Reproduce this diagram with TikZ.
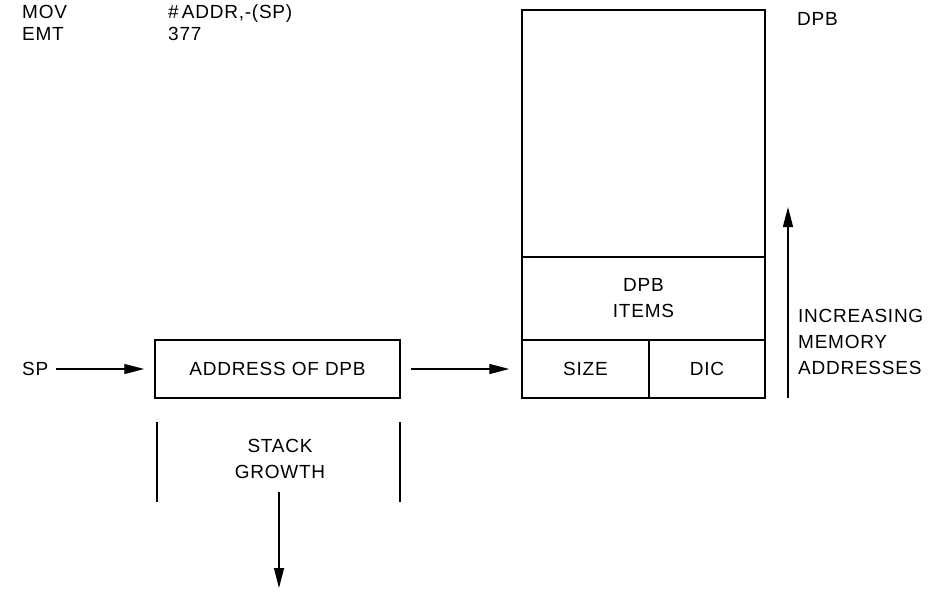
\documentclass[tikz,border=0pt]{standalone}
\usepackage{fontspec}
\setmainfont{Liberation Sans}[LetterSpace=4]
\usetikzlibrary{arrows.meta}
\begin{document}
\begin{tikzpicture}[x=1pt,y=-1pt,
  lbl/.style={font=\fontsize{19}{26}\selectfont, inner sep=0pt},
  cell/.style={draw, line width=1.5pt, minimum width=#1, inner sep=0pt},
  conn/.style={line width=1.4pt, -{Triangle[length=20pt,width=10pt]}},
  plain/.style={line width=1.5pt}]
\useasboundingbox (0,0) rectangle (930,592);
% top text
\node[lbl, anchor=base west] (mov) at (22,18) {MOV};
\node[lbl, anchor=base west] (movarg) at (168,18) {\#\,ADDR,-(SP)};
\node[lbl, anchor=base west] (emt) at (22,40) {EMT};
\node[lbl, anchor=base west] (emtarg) at (168,40) {377};
\node[lbl, anchor=base west] (dpblbl) at (797,25) {DPB};
% DPB block
\node[cell=243pt, minimum height=247pt] (dpbtop) at (643.5,133.5) {};
\node[cell=243pt, minimum height=83pt, lbl, align=center] (items) at (643.5,298.5) {DPB\\ITEMS};
\node[cell=127pt, minimum height=58pt, lbl] (size) at (585.5,369) {SIZE};
\node[cell=116pt, minimum height=58pt, lbl] (dic) at (707,369) {DIC};
% stack
\node[lbl, anchor=west] (sp) at (22,369) {SP};
\node[cell=245pt, minimum height=58pt, lbl] (addr) at (277.5,369) {ADDRESS OF DPB};
\draw[conn, shorten <=7pt, shorten >=10pt] (sp.east) -- (addr.west);
\draw[conn, shorten <=10pt, shorten >=12pt] (addr.east) -- (size.west);
\draw[plain] (157,422) -- (157,502);
\draw[plain] (400,422) -- (400,502);
\node[lbl, align=center] (growth) at (280,459) {STACK\\GROWTH};
\coordinate (dtop) at (279,492);
\coordinate (dbot) at (279,588);
\draw[conn] (dtop) -- (dbot);
% memory direction
\coordinate (ubot) at (788,398);
\coordinate (utop) at (788,207);
\draw[conn] (ubot) -- (utop);
\node[lbl, anchor=west, align=left] (incr) at (798,342) {INCREASING\\MEMORY\\ADDRESSES};
\end{tikzpicture}
\end{document}
